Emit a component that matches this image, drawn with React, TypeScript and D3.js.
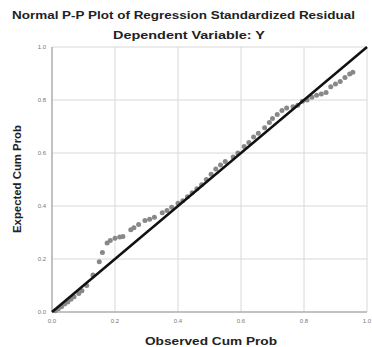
import React from "react";
import * as d3 from "d3";

// observed vs expected cumulative probabilities
const observed = [0.01, 0.02, 0.03, 0.04, 0.05, 0.06, 0.07, 0.085, 0.095, 0.11, 0.13, 0.15, 0.16, 0.175, 0.185, 0.2, 0.215, 0.225, 0.25, 0.26, 0.275, 0.295, 0.31, 0.325, 0.35, 0.365, 0.38, 0.4, 0.415, 0.43, 0.445, 0.46, 0.475, 0.49, 0.505, 0.52, 0.535, 0.55, 0.575, 0.59, 0.61, 0.625, 0.64, 0.655, 0.675, 0.69, 0.7, 0.715, 0.73, 0.745, 0.765, 0.78, 0.795, 0.81, 0.825, 0.84, 0.855, 0.87, 0.885, 0.9, 0.915, 0.93, 0.945, 0.955];
const expected = [0.005, 0.012, 0.02, 0.03, 0.038, 0.048, 0.058, 0.07, 0.08, 0.1, 0.14, 0.19, 0.225, 0.26, 0.27, 0.278, 0.283, 0.285, 0.31, 0.318, 0.33, 0.345, 0.35, 0.358, 0.375, 0.383, 0.395, 0.41, 0.42, 0.435, 0.45, 0.465, 0.48, 0.5, 0.52, 0.54, 0.555, 0.568, 0.585, 0.6, 0.625, 0.64, 0.66, 0.675, 0.695, 0.715, 0.73, 0.745, 0.76, 0.77, 0.775, 0.78, 0.795, 0.8, 0.81, 0.818, 0.823, 0.828, 0.85, 0.86, 0.87, 0.885, 0.898, 0.905];
const ticks = [0, 0.2, 0.4, 0.6, 0.8, 1.0];

const W = 372;
const H = 347;
const font = "'Liberation Sans', Arial, sans-serif";

export default function App() {
  const x = d3.scaleLinear().domain([0, 1]).range([52, 367]);
  const y = d3.scaleLinear().domain([0, 1]).range([312, 47]);
  const pts = observed.map((o, i) => [o, expected[i]]);
  const fmt = d3.format(".1f");

  return (
    <svg width={W} height={H} style={{ position: "absolute", left: 0, top: 0, background: "#fff" }}>
      <text x={12} y={19} textLength={343} lengthAdjust="spacingAndGlyphs" fontFamily={font} fontWeight="bold" fontSize={10.5} fill="#222">
        Normal P-P Plot of Regression Standardized Residual
      </text>
      <text x={113} y={39} textLength={152} lengthAdjust="spacingAndGlyphs" fontFamily={font} fontWeight="bold" fontSize={11} fill="#222">
        Dependent Variable: Y
      </text>

      {/* grid */}
      {ticks.map((t) => (
        <g key={t}>
          <line x1={x(t)} x2={x(t)} y1={y(0)} y2={y(1)} stroke="#d8d8d8" strokeWidth={1} />
          <line x1={x(0)} x2={x(1)} y1={y(t)} y2={y(t)} stroke="#d8d8d8" strokeWidth={1} />
          <text x={x(0) - 6} y={y(t) + 2} textAnchor="end" fontFamily={font} fontSize={6} fill="#777">
            {fmt(t)}
          </text>
          <text x={x(t)} y={y(0) + 11} textAnchor="middle" fontFamily={font} fontSize={6} fill="#777">
            {fmt(t)}
          </text>
        </g>
      ))}
      <line x1={x(0)} x2={x(0)} y1={y(0)} y2={y(1)} stroke="#999" strokeWidth={1} />
      <line x1={x(0)} x2={x(1)} y1={y(0)} y2={y(0)} stroke="#999" strokeWidth={1} />

      {/* points */}
      {pts.map(([o, e], i) => (
        <circle key={i} cx={x(o)} cy={y(e)} r={2.5} fill="#888" />
      ))}

      {/* reference line */}
      <line x1={x(0)} y1={y(0)} x2={x(1)} y2={y(1)} stroke="#111" strokeWidth={2.5} />

      <text x={145} y={345} textLength={132} lengthAdjust="spacingAndGlyphs" fontFamily={font} fontWeight="bold" fontSize={11} fill="#222">
        Observed Cum Prob
      </text>
      <text
        transform={`translate(21,233) rotate(-90)`}
        textLength={108}
        lengthAdjust="spacingAndGlyphs"
        fontFamily={font}
        fontWeight="bold"
        fontSize={10}
        fill="#222"
      >
        Expected Cum Prob
      </text>
    </svg>
  );
}
